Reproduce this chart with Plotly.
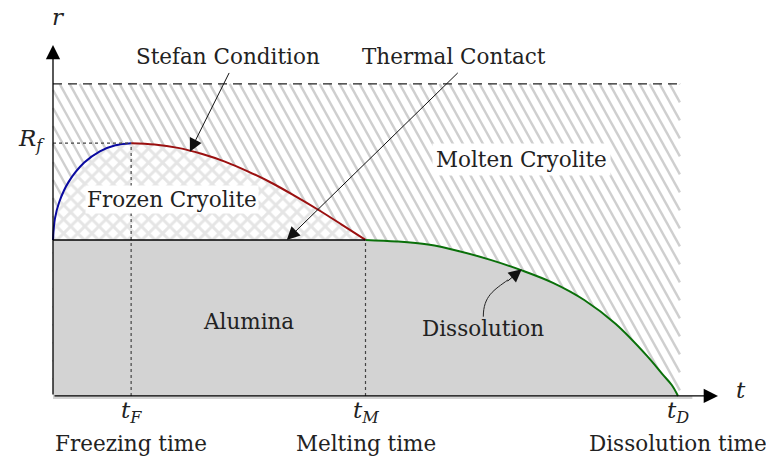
import numpy as np
import plotly.graph_objects as go

# ---- data read from the schematic (t: time units, r: radius units) ----
t_F, t_M, t_D = 1.25, 5.0, 10.0
R_f = 1.62
R_0 = 1.0          # alumina radius
R_top = 2.0        # dashed outer boundary

t_freeze = [0.0, 0.03, 0.1, 0.25, 0.5, 0.75, 1.0, 1.25]
r_freeze = [1.0, 1.135, 1.243, 1.372, 1.496, 1.568, 1.607, 1.62]

t_melt = [1.25, 1.625, 2.0, 2.375, 2.75, 3.125, 3.5, 3.875, 4.25, 4.625, 5.0]
r_melt = [1.62, 1.612, 1.59, 1.552, 1.502, 1.438, 1.365, 1.281, 1.192, 1.097, 1.0]

t_diss = [5.0, 5.5, 6.0, 6.5, 7.0, 7.5, 8.0, 8.5, 9.0, 9.5, 9.75, 9.9, 10.0]
r_diss = [1.0, 0.99, 0.97, 0.928, 0.872, 0.805, 0.725, 0.615, 0.462, 0.258, 0.14, 0.07, 0.0]

time_ticks = [t_F, t_M, t_D]
time_sym = ["<i>t</i><sub><i>F</i></sub>", "<i>t</i><sub><i>M</i></sub>", "<i>t</i><sub><i>D</i></sub>"]
time_names = ["Freezing time", "Melting time", "Dissolution time"]

FONT = "DejaVu Serif"
TXT = "#222222"
HATCH = "#cfcfcf"

fig = go.Figure()

# Molten-cryolite hatch: steep "north-west" lines over the whole outer band
# (the opaque fills drawn afterwards cover the frozen and alumina parts)
HATCH_SLOPE = 1.387    # dt per dr (about 60 degrees on screen)
HATCH_STEP = 0.16      # horizontal spacing in t units
T_RIGHT = 10.03
hx, hy = [], []
for t0 in np.arange(-HATCH_SLOPE * R_top, T_RIGHT, HATCH_STEP):
    ta = max(t0, 0.0)
    tb = min(t0 + HATCH_SLOPE * R_top, T_RIGHT)
    if tb <= ta:
        continue
    hx += [ta, tb, None]
    hy += [R_top - (ta - t0) / HATCH_SLOPE, R_top - (tb - t0) / HATCH_SLOPE, None]
fig.add_trace(go.Scatter(x=hx, y=hy, mode="lines", line=dict(color=HATCH, width=2.4),
                         hoverinfo="skip", showlegend=False))

# Alumina (solid grey)
fig.add_trace(go.Scatter(
    x=[0.0, 0.0] + t_diss + [T_RIGHT + 0.2, T_RIGHT + 0.2],
    y=[-0.02, R_0] + r_diss + [0.0, -0.02],
    fill="toself", fillcolor="#d3d3d3", mode="lines", line=dict(width=0),
    hoverinfo="skip", showlegend=False))

# Frozen cryolite (cross hatch)
fig.add_trace(go.Scatter(
    x=t_freeze + t_melt[1:], y=r_freeze + r_melt[1:],
    fill="toself", mode="lines", line=dict(width=0), fillcolor="white",
    fillpattern=dict(shape="x", fgcolor="#cccccc", bgcolor="white", size=10, solidity=0.5),
    hoverinfo="skip", showlegend=False))

# guide lines
fig.add_shape(type="line", x0=0, x1=t_D, y0=R_top, y1=R_top, xref="x", yref="y",
              line=dict(color="#222222", width=1.2, dash="9px,6px"))
fig.add_shape(type="line", x0=0, x1=t_F, y0=R_f, y1=R_f, xref="x", yref="y",
              line=dict(color="#444444", width=1.2, dash="dot"))
fig.add_shape(type="line", x0=t_F, x1=t_F, y0=0, y1=R_f, xref="x", yref="y",
              line=dict(color="#444444", width=1.2, dash="dot"))
fig.add_shape(type="line", x0=t_M, x1=t_M, y0=0, y1=R_0, xref="x", yref="y",
              line=dict(color="#444444", width=1.2, dash="dot"))
fig.add_shape(type="line", x0=0, x1=t_M, y0=R_0, y1=R_0, xref="x", yref="y",
              line=dict(color="black", width=1.6))

# interface curves
fig.add_trace(go.Scatter(x=t_freeze, y=r_freeze, mode="lines",
                         line=dict(color="#0a0aa0", width=2, shape="spline"),
                         hoverinfo="skip", showlegend=False))
fig.add_trace(go.Scatter(x=t_melt, y=r_melt, mode="lines",
                         line=dict(color="#9b1010", width=2, shape="spline"),
                         hoverinfo="skip", showlegend=False))
fig.add_trace(go.Scatter(x=t_diss, y=r_diss, mode="lines",
                         line=dict(color="#0a700a", width=2, shape="spline"),
                         hoverinfo="skip", showlegend=False))

# curved "Dissolution" arrow shaft
fig.add_shape(type="path", xref="x", yref="y",
              path="M 6.885,0.508 C 6.885,0.641 7.056,0.679 7.28,0.744",
              line=dict(color="#222222", width=1))

ann = []
# axes with arrows
ann.append(dict(x=0, y=2.25, ax=0, ay=0, xref="x", yref="y", axref="x", ayref="y",
                showarrow=True, arrowhead=2, arrowsize=2.2, arrowwidth=1.3,
                arrowcolor="black", text=""))
ann.append(dict(x=10.64, y=0, ax=0, ay=0, xref="x", yref="y", axref="x", ayref="y",
                showarrow=True, arrowhead=2, arrowsize=2.2, arrowwidth=1.3,
                arrowcolor="black", text=""))
# pointer arrows
ann.append(dict(x=2.19, y=1.566, ax=2.83, ay=2.08, xref="x", yref="y", axref="x", ayref="y",
                showarrow=True, arrowhead=2, arrowsize=2.6, arrowwidth=1,
                arrowcolor="#111111", text=""))
ann.append(dict(x=3.74, y=1.0, ax=6.5, ay=2.08, xref="x", yref="y", axref="x", ayref="y",
                showarrow=True, arrowhead=2, arrowsize=2.6, arrowwidth=1,
                arrowcolor="#111111", text=""))
ann.append(dict(x=7.5, y=0.812, ax=7.25, ay=0.728, xref="x", yref="y", axref="x", ayref="y",
                showarrow=True, arrowhead=2, arrowsize=2.6, arrowwidth=1,
                arrowcolor="#111111", text=""))

def label(x, y, text, size=21.5, bg=None, pad=1):
    d = dict(x=x, y=y, xref="x", yref="y", text=text, showarrow=False,
             font=dict(family=FONT, size=size, color=TXT), xanchor="center", yanchor="middle")
    if bg:
        d.update(bgcolor=bg, borderpad=pad)
    ann.append(d)

label(0.08, 2.43, "<i>r</i>", 23)
label(11.0, 0.04, "<i>t</i>", 23)
label(-0.34, 1.64, "<i>R</i><sub><i>f</i></sub>", 23)
label(2.8, 2.175, "Stefan Condition")
label(6.42, 2.175, "Thermal Contact")
label(7.49, 1.515, "Molten Cryolite", bg="white", pad=3)
label(1.9, 1.26, "Frozen Cryolite", bg="white", pad=1)
label(3.12, 0.48, "Alumina")
label(6.88, 0.435, "Dissolution")
for tt, s, n in zip(time_ticks, time_sym, time_names):
    label(tt, -0.105, s, 23)
    label(tt, -0.305, n)

fig.update_layout(
    width=766, height=456, margin=dict(l=0, r=0, t=0, b=0),
    paper_bgcolor="white", plot_bgcolor="white",
    font=dict(family=FONT),
    xaxis=dict(range=[-0.848, 11.408], visible=False, fixedrange=True),
    yaxis=dict(range=[-0.385, 2.538], visible=False, fixedrange=True),
    annotations=ann, showlegend=False)

fig.write_html("out.html")
